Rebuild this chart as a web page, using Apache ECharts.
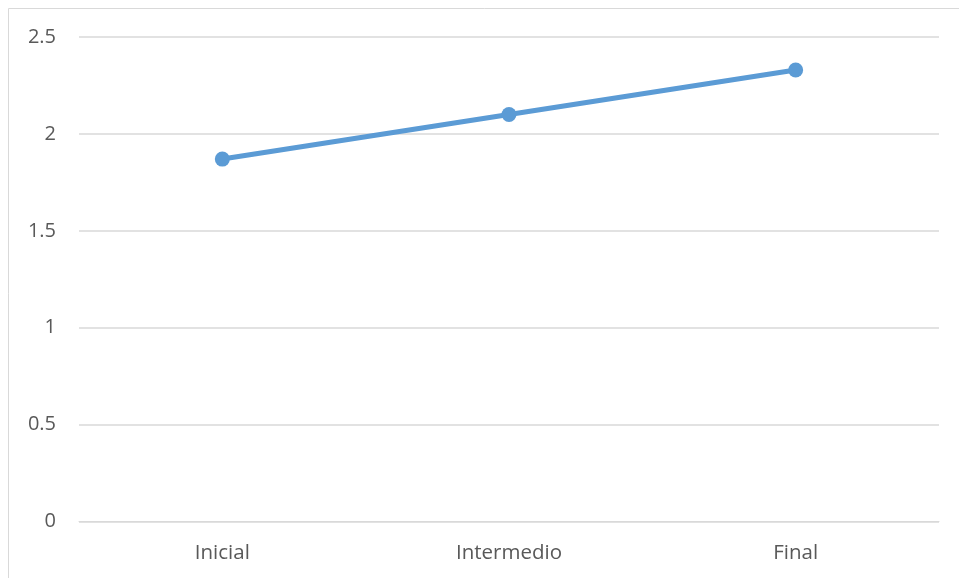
<!DOCTYPE html>
<html><head><meta charset="utf-8">
<script src="https://cdn.jsdelivr.net/npm/echarts@6/dist/echarts.min.js"></script>
<style>html,body{margin:0;padding:0;background:#fff}#c{width:959px;height:578px}</style>
</head><body><div id="c"></div>
<script>
const categories = ['Inicial', 'Intermedio', 'Final'];
const values = [1.87, 2.10, 2.33];
const yTicks = [0, 0.5, 1, 1.5, 2, 2.5];

const chart = echarts.init(document.getElementById('c'));
const FONT = '"Open Sans", Lato, sans-serif';
chart.setOption({
  animation: false,
  graphic: [{
    type: 'rect', shape: { x: 8.5, y: 8.5, width: 1000, height: 1000 },
    style: { fill: 'none', stroke: '#d9d9d9', lineWidth: 1 }, silent: true
  }],
  grid: { left: 79, right: 20, top: 37, bottom: 56.5 },
  xAxis: {
    type: 'category', data: categories, boundaryGap: true,
    axisLine: { show: true, lineStyle: { color: '#d9d9d9' } },
    axisTick: { show: false },
    axisLabel: { color: '#595959', fontSize: 20.5, fontFamily: FONT, margin: 21 }
  },
  yAxis: {
    type: 'value', min: yTicks[0], max: yTicks[yTicks.length - 1], interval: 0.5,
    axisLine: { show: false }, axisTick: { show: false },
    splitLine: { lineStyle: { color: '#d9d9d9', width: 1.5 } },
    axisLabel: { color: '#595959', fontSize: 20, fontFamily: FONT, margin: 23 }
  },
  series: [{
    type: 'line', data: values,
    lineStyle: { color: '#5b9bd5', width: 5 },
    itemStyle: { color: '#5b9bd5' },
    symbol: 'circle', symbolSize: 15
  }]
});
</script></body></html>
